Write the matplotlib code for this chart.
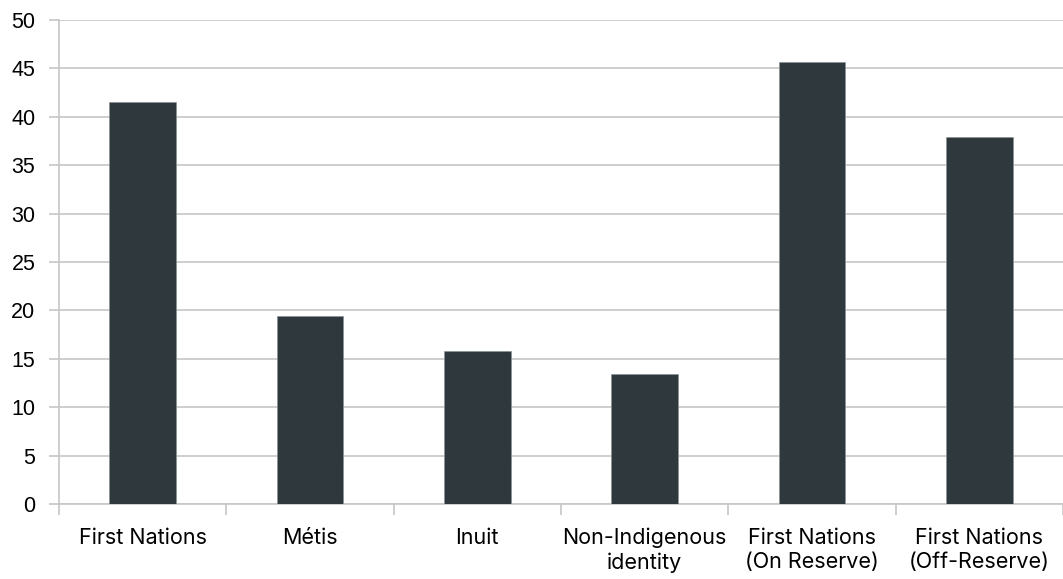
import numpy as np
import matplotlib
matplotlib.use("Agg")
import matplotlib.pyplot as plt

# 数据
categories = ["First Nations", "Métis", "Inuit", "Non-Indigenous\nidentity",
              "First Nations\n(On Reserve)", "First Nations\n(Off-Reserve)"]
values = [41.5, 19.4, 15.8, 13.4, 45.7, 37.9]
y_ticks = list(range(0, 51, 5))

BAR_COLOR = "#2e383d"
GRID_COLOR = "#c6c6c6"

plt.rcParams["font.family"] = ["Inter", "DejaVu Sans"]

fig = plt.figure(figsize=(10.63, 5.79), dpi=100)
ax = fig.add_axes([59 / 1063, 1 - 504 / 579, 1004 / 1063, 484 / 579])

x = np.arange(len(categories))
ax.bar(x, values, width=0.4, color=BAR_COLOR, edgecolor="#8a9297", linewidth=0.5, zorder=3)

ax.set_xlim(-0.5, len(categories) - 0.5)
ax.set_ylim(0, 50)
ax.set_yticks(y_ticks)
ax.set_yticklabels([str(v) for v in y_ticks], fontsize=15.5,
                   family=["Liberation Sans", "DejaVu Sans"])
ax.yaxis.grid(True, color=GRID_COLOR, linewidth=1.2, zorder=0)

# 类别标签居中, 刻度线位于类别之间
ax.set_xticks(np.arange(-0.5, len(categories), 1.0))
ax.set_xticklabels([])
ax.set_xticks(x, minor=True)
ax.set_xticklabels(categories, minor=True, fontsize=15.5, linespacing=1.25)
ax.tick_params(axis="x", which="major", length=8, color=GRID_COLOR, width=1.2)
ax.tick_params(axis="x", which="minor", length=0, pad=17)
ax.tick_params(axis="y", length=7, color=GRID_COLOR, width=1.2, pad=10)

for side in ["top", "right"]:
    ax.spines[side].set_visible(False)
for side in ["left", "bottom"]:
    ax.spines[side].set_color(GRID_COLOR)
    ax.spines[side].set_linewidth(1.2)

fig.savefig("out.png", dpi=100)
